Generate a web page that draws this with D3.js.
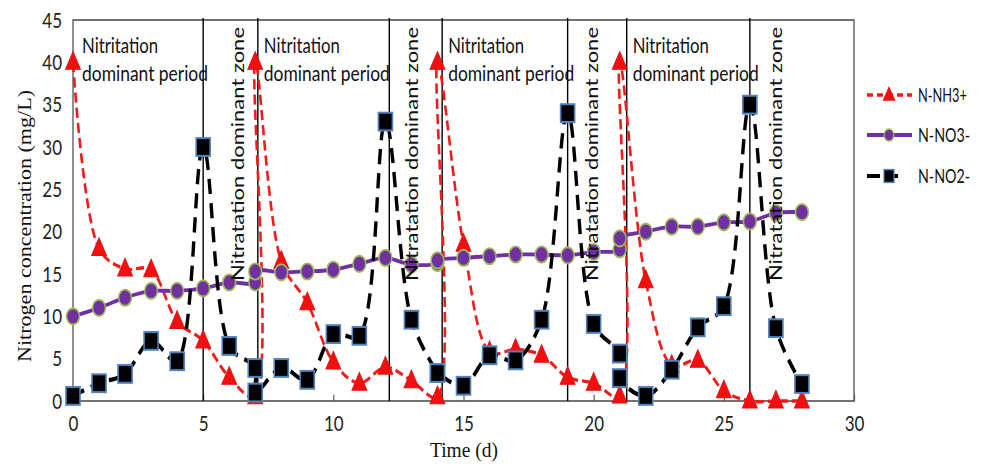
<!DOCTYPE html>
<html>
<head>
<meta charset="utf-8">
<script src="https://cdn.jsdelivr.net/npm/d3@7"></script>
<style>
  html, body { margin: 0; padding: 0; background: #ffffff; }
  svg { display: block; }
</style>
</head>
<body>
<svg id="chart"></svg>
<script>
// ---- data -------------------------------------------------------------
// Sampling days; each cycle restarts on day 7, 14 and 21, so those days appear twice.
const days = [0, 1, 2, 3, 4, 5, 6, 7,
              7, 8, 9, 10, 11, 12, 13, 14,
              14, 15, 16, 17, 18, 19, 20, 21,
              21, 22, 23, 24, 25, 26, 27, 28];

const nh3 = [40, 18, 15.6, 15.5, 9.4, 7.1, 2.8, 0.5,
             40, 16.5, 11.6, 4.6, 2.1, 4.0, 2.4, 0.5,
             40, 18.5, 5.8, 6.1, 5.4, 2.8, 2.1, 0.6,
             40, 14.2, 4.2, 4.8, 1.2, 0, 0, 0];

const no3 = [10.0, 11.0, 12.2, 13.0, 13.0, 13.3, 14.0, 14.0,
             15.3, 15.2, 15.3, 15.5, 16.2, 16.9, 16.1, 16.3,
             16.6, 16.9, 17.1, 17.3, 17.3, 17.2, 17.6, 17.9,
             19.2, 20.0, 20.6, 20.6, 21.1, 21.2, 22.2, 22.3];

const no2 = [0.6, 2.1, 3.2, 7.1, 4.7, 30, 6.5, 3.9,
             1.0, 3.9, 2.5, 7.9, 7.7, 33, 9.6, 3.3,
             3.3, 1.8, 5.4, 4.8, 9.6, 34, 9.1, 5.6,
             2.7, 0.6, 3.7, 8.7, 11.2, 35, 8.6, 2.0];

const seriesNames = ["N-NH3+", "N-NO3-", "N-NO2-"];

// Phase boundaries (days) drawn as vertical rules
const phaseBounds = [5, 7.1, 12.15, 14.18, 19, 21.27, 26];
const periodStarts = [0, 7.1, 14.18, 21.27];
const zoneStarts = [5, 12.15, 19, 26];
const periodLabel = ["Nitritation", "dominant period"];
const zoneLabel = "Nitratation dominant zone";

const xTicks = [0, 5, 10, 15, 20, 25, 30];
const yTicks = [0, 5, 10, 15, 20, 25, 30, 35, 40, 45];
const xTitle = "Time (d)";
const yTitle = "Nitrogen concentration (mg/L)";

// ---- layout -----------------------------------------------------------
const W = 987, H = 465;
const SY = 1.27;               // vertical stretch of the drawing
const IH = H / SY;             // internal drawing height
const py = v => v / SY;        // screen row -> internal row

const svg = d3.select("#chart")
  .attr("width", W).attr("height", H)
  .attr("viewBox", `0 0 ${W} ${IH}`)
  .attr("preserveAspectRatio", "none");

const plot = { left: 73, right: 854, top: py(20), bottom: py(401) };

const x = d3.scaleLinear().domain([0, 30]).range([plot.left, plot.right]);
const y = d3.scaleLinear().domain([0, 45]).range([plot.bottom, plot.top]);

const sans = "Lato, 'Open Sans', sans-serif";
const serif = "'Liberation Serif', 'DejaVu Serif', serif";

// ---- axes -------------------------------------------------------------
const xAxis = svg.append("g")
  .attr("transform", `translate(0,${plot.bottom})`)
  .call(d3.axisBottom(x).tickValues(xTicks).tickFormat(d3.format("d"))
        .tickSizeInner(-5).tickSizeOuter(0));
xAxis.select(".domain").remove();
xAxis.selectAll(".tick line").attr("stroke", "#595959").attr("stroke-width", 1.2);
xAxis.selectAll(".tick text")
  .attr("y", py(431) - plot.bottom).attr("dy", null)
  .attr("font-family", sans).attr("font-size", 17).attr("fill", "#222");

const yAxis = svg.append("g")
  .attr("transform", `translate(${plot.left},0)`)
  .call(d3.axisLeft(y).tickValues(yTicks).tickFormat(d3.format("d"))
        .tickSize(0).tickPadding(11));
yAxis.select(".domain").remove();
yAxis.selectAll(".tick text")
  .attr("font-family", sans).attr("font-size", 17).attr("fill", "#222");

// plot frame
svg.append("rect")
  .attr("x", plot.left).attr("y", plot.top)
  .attr("width", plot.right - plot.left).attr("height", plot.bottom - plot.top)
  .attr("fill", "none").attr("stroke", "#555555").attr("stroke-width", 1.3);

// axis titles
svg.append("text")
  .attr("transform", `translate(31,${py(226)}) rotate(-90)`)
  .attr("text-anchor", "middle")
  .attr("font-family", serif).attr("font-size", 19.5).attr("fill", "#111")
  .attr("textLength", py(272)).attr("lengthAdjust", "spacingAndGlyphs")
  .text(yTitle);

svg.append("text")
  .attr("x", 464).attr("y", py(457))
  .attr("text-anchor", "middle")
  .attr("font-family", serif).attr("font-size", 17).attr("fill", "#111")
  .attr("textLength", 68).attr("lengthAdjust", "spacingAndGlyphs")
  .text(xTitle);

// ---- phase rules ------------------------------------------------------
svg.append("g").selectAll("line").data(phaseBounds).join("line")
  .attr("x1", d => x(d)).attr("x2", d => x(d))
  .attr("y1", py(18)).attr("y2", plot.bottom)
  .attr("stroke", "#000").attr("stroke-width", 1.4);

// ---- series -----------------------------------------------------------
const curve = d3.curveCatmullRom.alpha(0.5);
const line = d3.line().x(d => x(d.day)).y(d => y(d.v)).curve(curve);
const toPts = vals => days.map((day, i) => ({ day, v: vals[i] }));

const triPath = (hw, top, base) => `M0,${-top}L${hw},${base}L${-hw},${base}Z`;

// N-NH3+
const gNH3 = svg.append("g");
gNH3.append("path").datum(toPts(nh3)).attr("d", line)
  .attr("fill", "none").attr("stroke", "#f21b1b").attr("stroke-width", 2.6)
  .attr("stroke-dasharray", "8,4");
gNH3.selectAll("path.m").data(toPts(nh3)).join("path").attr("class", "m")
  .attr("transform", d => `translate(${x(d.day)},${y(d.v)})`)
  .attr("d", triPath(7.5, 8.5, 5.5))
  .attr("fill", "#f20f0f").attr("stroke", "#e01010").attr("stroke-width", 0.8);

// N-NO3-
const gNO3 = svg.append("g");
gNO3.append("path").datum(toPts(no3)).attr("d", line)
  .attr("fill", "none").attr("stroke", "#7030a0").attr("stroke-width", 3);
gNO3.selectAll("circle").data(toPts(no3)).join("circle")
  .attr("cx", d => x(d.day)).attr("cy", d => y(d.v)).attr("r", 6.4)
  .attr("fill", "#7030a0").attr("stroke", "#9bbb59").attr("stroke-width", 1.5);

// N-NO2-
const gNO2 = svg.append("g");
gNO2.append("path").datum(toPts(no2)).attr("d", line)
  .attr("fill", "none").attr("stroke", "#000").attr("stroke-width", 3.4)
  .attr("stroke-dasharray", "12,7");
gNO2.selectAll("rect").data(toPts(no2)).join("rect")
  .attr("x", d => x(d.day) - 7).attr("y", d => y(d.v) - 7)
  .attr("width", 14).attr("height", 14)
  .attr("fill", "#000").attr("stroke", "#4f81bd").attr("stroke-width", 1.6);

// ---- phase annotations -----------------------------------------------
const ann = svg.append("g").attr("font-family", sans).attr("font-size", 17).attr("fill", "#111");
periodStarts.forEach((s, i) => {
  const tx = x(s) + (i === 0 ? 9 : 6);
  ann.append("text").attr("x", tx).attr("y", py(53))
    .attr("textLength", 76).attr("lengthAdjust", "spacingAndGlyphs")
    .text(periodLabel[0]);
  ann.append("text").attr("x", tx).attr("y", py(81))
    .attr("textLength", 126).attr("lengthAdjust", "spacingAndGlyphs")
    .text(periodLabel[1]);
});
const zoneOffsets = [41, 29, 30, 32];
zoneStarts.forEach((s, i) => {
  ann.append("text")
    .attr("transform", `translate(${x(s) + zoneOffsets[i]},${py(281)}) rotate(-90)`)
    .attr("textLength", py(254)).attr("lengthAdjust", "spacingAndGlyphs")
    .text(zoneLabel);
});

// ---- legend -----------------------------------------------------------
const leg = svg.append("g");
const legRows = [py(95), py(135), py(176)];
const lx0 = 867, lx1 = 912, lm = 889;

leg.append("line").attr("x1", lx0).attr("x2", lx1).attr("y1", legRows[0]).attr("y2", legRows[0])
  .attr("stroke", "#f21b1b").attr("stroke-width", 2.6).attr("stroke-dasharray", "6,4");
leg.append("path").attr("transform", `translate(${lm},${legRows[0]})`)
  .attr("d", triPath(6.5, 7, 4.5)).attr("fill", "#f20f0f");

leg.append("line").attr("x1", lx0).attr("x2", lx1).attr("y1", legRows[1]).attr("y2", legRows[1])
  .attr("stroke", "#7030a0").attr("stroke-width", 3);
leg.append("circle").attr("cx", lm).attr("cy", legRows[1]).attr("r", 4.8)
  .attr("fill", "#7030a0").attr("stroke", "#9bbb59").attr("stroke-width", 1.2);

leg.append("line").attr("x1", lx0).attr("x2", 903).attr("y1", legRows[2]).attr("y2", legRows[2])
  .attr("stroke", "#000").attr("stroke-width", 3.2).attr("stroke-dasharray", "13,5");
leg.append("rect").attr("x", lm - 5).attr("y", legRows[2] - 5).attr("width", 10).attr("height", 10)
  .attr("fill", "#000").attr("stroke", "#4f81bd").attr("stroke-width", 1.2);

const legWidths = [49, 52, 52];
leg.selectAll("text").data(seriesNames).join("text")
  .attr("x", 918).attr("y", (d, i) => legRows[i]).attr("dy", "0.36em")
  .attr("font-family", sans).attr("font-size", 15).attr("fill", "#111")
  .attr("textLength", (d, i) => legWidths[i]).attr("lengthAdjust", "spacingAndGlyphs")
  .text(d => d);
</script>
</body>
</html>
